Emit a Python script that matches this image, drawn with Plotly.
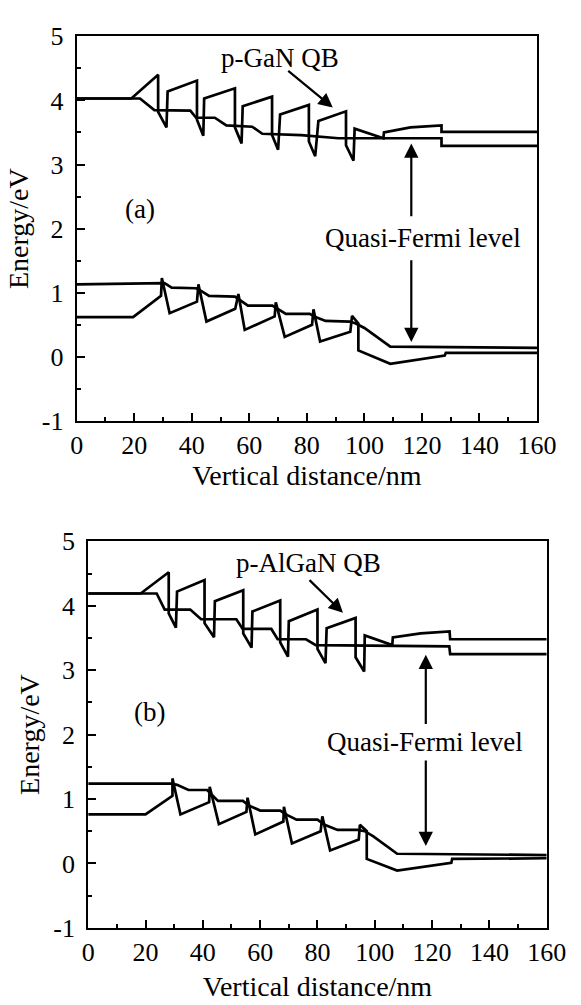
import plotly.graph_objects as go

# ---------------- Panel (a): p-GaN quantum barriers ----------------
# conduction band
cb_a_x = [0, 19, 28.3, 28.3, 31.2, 31.6, 41.8, 41.8, 44.0, 44.3, 55.0, 55.0, 57.3, 57.7,
          67.9, 67.9, 70.0, 70.7, 80.7, 80.7, 82.9, 84.0, 93.6, 93.6, 96.2, 96.6, 106.6,
          106.8, 116, 126.8, 126.8, 160]
cb_a_e = [4.03, 4.03, 4.40, 3.82, 3.58, 4.14, 4.31, 3.70, 3.45, 4.03, 4.19, 3.58, 3.33, 3.91,
          4.06, 3.46, 3.23, 3.78, 3.93, 3.36, 3.13, 3.68, 3.83, 3.30, 3.06, 3.56, 3.41,
          3.50, 3.58, 3.61, 3.51, 3.51]
# electron quasi-Fermi level
efn_a_x = [0, 22, 27, 39.5, 41.5, 48, 52, 61, 64.5, 78, 91, 126.8, 126.8, 160]
efn_a_e = [4.03, 4.03, 3.85, 3.84, 3.73, 3.73, 3.61, 3.59, 3.48, 3.46, 3.41, 3.41, 3.29, 3.29]
# valence band
ev_a_x = [0, 19.6, 29.3, 29.6, 32.3, 41.8, 42.3, 45.1, 55.1, 56.2, 58.4, 68.8, 69.2, 72.3,
          81.8, 82.3, 84.6, 95.1, 95.7, 97.9, 97.9, 109, 127.9, 128.3, 160]
ev_a_e = [0.62, 0.62, 0.95, 1.23, 0.68, 0.86, 1.13, 0.55, 0.75, 0.98, 0.42, 0.63, 0.85, 0.31,
          0.50, 0.74, 0.24, 0.39, 0.64, 0.52, 0.10, -0.11, 0.02, 0.06, 0.06]
# hole quasi-Fermi level
efp_a_x = [0, 28.5, 30.5, 33, 41.5, 43.5, 46, 55, 57, 59.5, 68, 70, 72.7, 81, 83, 86.5,
           95, 97, 100, 109, 160]
efp_a_e = [1.13, 1.15, 1.15, 1.08, 1.07, 1.02, 0.95, 0.94, 0.88, 0.80, 0.80, 0.74, 0.67,
           0.67, 0.62, 0.56, 0.55, 0.52, 0.45, 0.16, 0.14]

# ---------------- Panel (b): p-AlGaN quantum barriers ----------------
cb_b_x = [0, 18.3, 28.1, 28.1, 30.6, 31.0, 40.6, 40.6, 43.9, 44.2, 54.1, 54.1, 57.0, 57.3,
          67.0, 67.0, 69.7, 70.0, 80.0, 80.0, 82.8, 83.2, 93.3, 93.3, 96.3, 96.5, 106.1,
          106.3, 116, 126.1, 126.3, 160]
cb_b_e = [4.19, 4.19, 4.52, 3.88, 3.66, 4.22, 4.40, 3.73, 3.51, 4.07, 4.24, 3.57, 3.35, 3.91,
          4.08, 3.43, 3.21, 3.76, 3.94, 3.33, 3.11, 3.65, 3.81, 3.20, 2.98, 3.54, 3.39,
          3.51, 3.57, 3.60, 3.48, 3.48]
efn_b_x = [0, 23.9, 26.7, 35.6, 39.4, 51.7, 53.9, 63.9, 66.1, 76, 79.4, 126, 126.3, 160]
efn_b_e = [4.19, 4.19, 3.94, 3.94, 3.79, 3.79, 3.64, 3.64, 3.48, 3.48, 3.39, 3.37, 3.25, 3.25]
ev_b_x = [0, 20, 29.4, 29.4, 32.2, 42.2, 42.4, 45.6, 55.2, 55.6, 58.3, 68.1, 68.3, 71.1,
          81.1, 81.7, 84.4, 94.4, 94.8, 97.2, 97.2, 107.8, 126.7, 127, 160]
ev_b_e = [0.76, 0.76, 1.05, 1.32, 0.76, 0.95, 1.19, 0.61, 0.80, 1.02, 0.45, 0.65, 0.88, 0.31,
          0.50, 0.73, 0.20, 0.37, 0.60, 0.50, 0.07, -0.11, 0.01, 0.07, 0.08]
efp_b_x = [0, 29, 31, 35, 41.5, 43.5, 45.3, 54, 56, 60, 67, 69.5, 72.7, 80, 82.5, 87,
           94, 96.5, 99.5, 107.8, 160]
efp_b_e = [1.24, 1.24, 1.22, 1.14, 1.14, 1.05, 0.97, 0.97, 0.90, 0.82, 0.82, 0.75, 0.68,
           0.68, 0.60, 0.52, 0.52, 0.50, 0.42, 0.15, 0.13]

x_ticks = [0, 20, 40, 60, 80, 100, 120, 140, 160]
y_ticks = [-1, 0, 1, 2, 3, 4, 5]
y_tick_text = ["-1", "0", "1", "2", "3", "4", "5"]

FONT = "Liberation Serif"
INK = "black"

fig = go.Figure()

def add_curve(xs, ys, xa, ya):
    fig.add_trace(go.Scatter(x=xs, y=ys, mode="lines", xaxis=xa, yaxis=ya,
                             line=dict(color=INK, width=2.7),
                             showlegend=False, hoverinfo="skip"))

for xs, ys in [(cb_a_x, cb_a_e), (efn_a_x, efn_a_e), (ev_a_x, ev_a_e), (efp_a_x, efp_a_e)]:
    add_curve(xs, ys, "x", "y")
for xs, ys in [(cb_b_x, cb_b_e), (efn_b_x, efn_b_e), (ev_b_x, ev_b_e), (efp_b_x, efp_b_e)]:
    add_curve(xs, ys, "x2", "y2")

def x_axis(domain, anchor, standoff):
    return dict(domain=domain, anchor=anchor, range=[0, 160], tickvals=x_ticks,
                ticks="inside", ticklen=8, tickwidth=2, tickcolor=INK,
                minor=dict(ticks="inside", ticklen=4, tickwidth=1.5, dtick=10, tickcolor=INK),
                showline=True, linewidth=2.2, linecolor=INK, mirror=True,
                showgrid=False, zeroline=False,
                tickfont=dict(family=FONT, size=26, color=INK),
                title=dict(text="Vertical distance/nm", standoff=standoff,
                           font=dict(family=FONT, size=28, color=INK)))

def y_axis(domain, anchor, standoff):
    return dict(domain=domain, anchor=anchor, range=[-1, 5], tickvals=y_ticks,
                ticktext=y_tick_text,
                ticks="inside", ticklen=8, tickwidth=2, tickcolor=INK,
                minor=dict(ticks="inside", ticklen=4, tickwidth=1.5, dtick=0.5, tickcolor=INK),
                showline=True, linewidth=2.2, linecolor=INK, mirror=True,
                showgrid=False, zeroline=False, ticklabelstandoff=6,
                tickfont=dict(family=FONT, size=26, color=INK),
                title=dict(text="Energy/eV", standoff=standoff,
                           font=dict(family=FONT, size=28, color=INK)))

fig.update_layout(
    width=581, height=1005,
    margin=dict(l=0, r=0, t=0, b=0),
    paper_bgcolor="white", plot_bgcolor="white",
    xaxis=x_axis([0.1256, 0.955], "y", 0),
    yaxis=y_axis([0.5831, 0.9771], "x", 5),
    xaxis2=x_axis([0.1463, 0.9725], "y2", 10),
    yaxis2=y_axis([0.0637, 0.4597], "x2", 5),
)

txt = dict(family=FONT, size=27, color=INK)

def label(xr, yr, x, y, text):
    fig.add_annotation(xref=xr, yref=yr, x=x, y=y, text=text, showarrow=False, font=txt)

def arrow(xr, yr, x0, y0, x1, y1):
    fig.add_annotation(xref=xr, yref=yr, axref=xr, ayref=yr, x=x1, y=y1, ax=x0, ay=y0,
                       text="", showarrow=True, arrowhead=2, arrowsize=1.3,
                       arrowwidth=2.2, arrowcolor=INK)

# panel (a) annotations
label("x", "y", 70.7, 4.67, "p-GaN QB")
arrow("x", "y", 73, 4.48, 89, 3.89)
label("x", "y", 22, 2.3, "(a)")
label("x", "y", 120.5, 1.86, "Quasi-Fermi level")
arrow("x", "y", 116.3, 2.17, 116.3, 3.33)
arrow("x", "y", 116.3, 1.53, 116.3, 0.23)

# panel (b) annotations
label("x2", "y2", 76.7, 4.67, "p-AlGaN QB")
arrow("x2", "y2", 76.7, 4.42, 88.9, 3.89)
label("x2", "y2", 21.5, 2.35, "(b)")
label("x2", "y2", 117.5, 1.88, "Quasi-Fermi level")
arrow("x2", "y2", 117.8, 2.14, 117.8, 3.24)
arrow("x2", "y2", 117.8, 1.62, 117.8, 0.27)

fig.write_html("out.html")
